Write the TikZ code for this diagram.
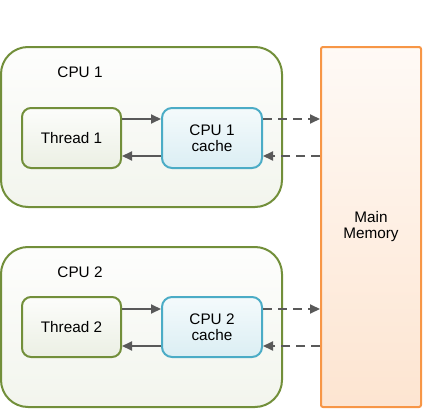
\documentclass[tikz,border=0pt]{standalone}
\usepackage{fontspec}
\setmainfont{Liberation Sans}
\usetikzlibrary{arrows.meta,calc}
\definecolor{olive}{HTML}{728F3A}
\definecolor{cachebd}{HTML}{4BACC6}
\definecolor{membd}{HTML}{F79646}
\definecolor{arr}{HTML}{595959}
\tikzset{
  txt/.style={font=\fontsize{15.3pt}{16pt}\selectfont},
  cpubox/.style={draw=olive, line width=2pt, rounded corners=27pt, top color=white!60!olive!3, bottom color=olive!9, minimum width=281pt, minimum height=160pt, inner sep=0pt},
  threadbox/.style={txt, draw=olive, line width=2pt, rounded corners=9pt, top color=olive!2, bottom color=olive!14, minimum width=99pt, minimum height=60pt, inner sep=0pt, align=center},
  cachebox/.style={txt, draw=cachebd, line width=2pt, rounded corners=10pt, top color=cachebd!6, bottom color=cachebd!20, minimum width=100pt, minimum height=60pt, inner sep=0pt, align=center},
  membox/.style={txt, draw=membd, line width=2pt, rounded corners=2pt, top color=membd!5, bottom color=membd!25, minimum width=100pt, minimum height=360pt, inner sep=0pt, align=center},
  lbl/.style={txt, inner sep=0pt},
  solidarr/.style={draw=arr, line width=2pt, -{Triangle[length=10pt,width=9pt]}},
  dasharr/.style={draw=arr, line width=2pt, dash pattern=on 9pt off 6pt, -{Triangle[length=10pt,width=9pt]}}
}
\begin{document}
\begin{tikzpicture}[x=1pt,y=-1pt]
\useasboundingbox (0,0) rectangle (424,410);
\node[membox] (mem) at (371,227) {Main\\Memory};
% CPU 1
\node[cpubox] (cpu1) at (141.5,127) {};
\node[lbl] (l1) at (80,72) {CPU 1};
\node[threadbox] (t1) at (71.5,138) {Thread 1};
\node[cachebox] (c1) at (212,138) {CPU 1\\cache};
% CPU 2
\node[cpubox] (cpu2) at (141.5,327) {};
\node[lbl] (l2) at (80,272) {CPU 2};
\node[threadbox] (t2) at (71.5,327) {Thread 2};
\node[cachebox] (c2) at (212,327) {CPU 2\\cache};
% arrows CPU1
\draw[solidarr] ([yshift=19pt]t1.east) -- ([yshift=19pt]c1.west);
\draw[solidarr] ([yshift=-18pt]c1.west) -- ([yshift=-18pt]t1.east);
\draw[dasharr] ([yshift=19pt]c1.east) -- ([yshift=19pt]c1.east -| mem.west);
\coordinate (m1) at ([yshift=-18pt]c1.east -| mem.west);
\draw[dasharr] (m1) -- ([yshift=-18pt]c1.east);
% arrows CPU2
\draw[solidarr] ([yshift=18pt]t2.east) -- ([yshift=18pt]c2.west);
\draw[solidarr] ([yshift=-19pt]c2.west) -- ([yshift=-19pt]t2.east);
\draw[dasharr] ([yshift=18pt]c2.east) -- ([yshift=18pt]c2.east -| mem.west);
\coordinate (m2) at ([yshift=-19pt]c2.east -| mem.west);
\draw[dasharr] (m2) -- ([yshift=-19pt]c2.east);
\end{tikzpicture}
\end{document}
